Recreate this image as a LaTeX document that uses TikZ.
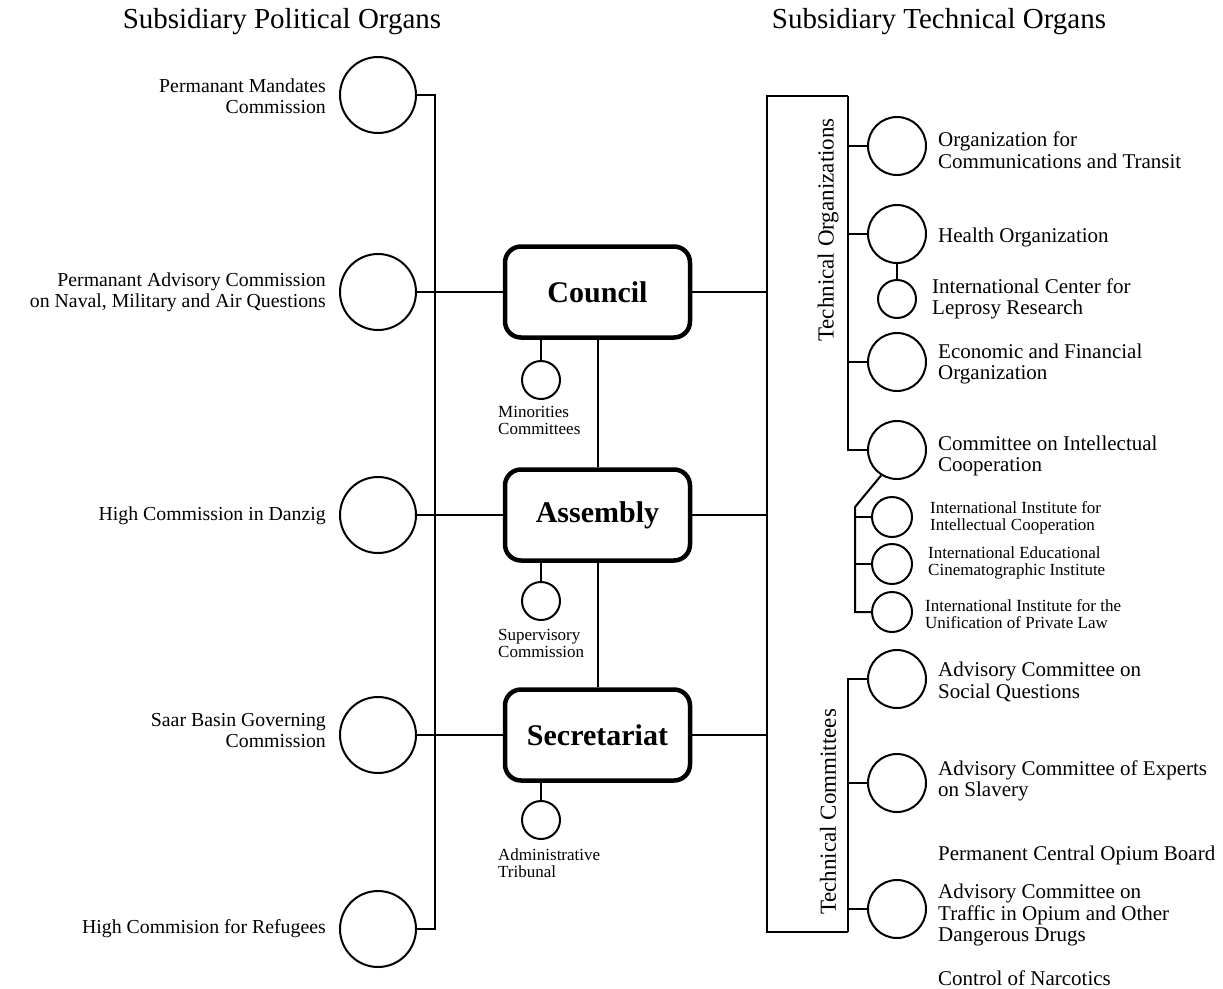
\documentclass[tikz,border=0pt]{standalone}
\usepackage{fontspec}
\setmainfont{Liberation Serif}
\begin{document}
\begin{tikzpicture}[x=1pt,y=-1pt,
  ln/.style={line width=2pt},
  bigc/.style={circle,draw,line width=2pt,minimum size=76pt,inner sep=0pt},
  rc/.style={circle,draw,line width=2pt,minimum size=58pt,inner sep=0pt},
  smc/.style={circle,draw,line width=2pt,minimum size=38pt,inner sep=0pt},
  subc/.style={circle,draw,line width=2pt,minimum size=40pt,inner sep=0pt},
  organ/.style={draw,line width=4.5pt,rounded corners=16pt,minimum width=185pt,minimum height=91pt,inner sep=0pt,font=\fontsize{30}{31}\selectfont\bfseries},
  hdr/.style={font=\fontsize{29}{30}\selectfont,inner sep=0pt},
  lt/.style={font=\fontsize{19.8}{21}\selectfont,inner sep=0pt,align=right,anchor=east},
  rt/.style={font=\fontsize{21}{21.5}\selectfont,inner sep=0pt,align=left,anchor=west},
  st/.style={font=\fontsize{17}{17}\selectfont,inner sep=0pt,align=left,anchor=west},
  vt/.style={font=\fontsize{23}{24}\selectfont,inner sep=0pt,rotate=90}]
\path[use as bounding box] (0,0) rectangle (1223,988);

% headers
\node[hdr] (h1) at (282,22) {Subsidiary Political Organs};
\node[hdr] (h2) at (939,22) {Subsidiary Technical Organs};

% left circles
\node[bigc] (L1) at (378,95) {};
\node[bigc] (L2) at (378,292) {};
\node[bigc] (L3) at (378,515) {};
\node[bigc] (L4) at (378,735) {};
\node[bigc] (L5) at (378,929) {};
\node[lt] (tL1) at (326,96) {Permanant Mandates\\Commission};
\node[lt] (tL2) at (326,292) {Permanant Advisory Commission\\on Naval, Military and Air Questions};
\node[lt] (tL3) at (326,516) {High Commission in Danzig};
\node[lt] (tL4) at (326,731) {Saar Basin Governing\\Commission};
\node[lt] (tL5) at (326,929) {High Commision for Refugees};

\coordinate (lsT) at (435,95);
\coordinate (lsB) at (435,929);
\draw[ln] (L1) -- (lsT) -- (lsB) -- (L5);

% central organs
\node[organ] (council) at (597.5,292) {Council};
\node[organ] (assembly) at (597.5,515) {Assembly};
\node[organ] (secretariat) at (597.5,735) {Secretariat};
\draw[ln] (L2) -- (council);
\draw[ln] (L3) -- (assembly);
\draw[ln] (L4) -- (secretariat);
\draw[ln] (council) -- (assembly);
\draw[ln] (assembly) -- (secretariat);

\node[smc] (m) at (541,380) {};
\node[smc] (s) at (541,601) {};
\node[smc] (a) at (541,820) {};
\draw[ln] (m) -- (m |- council.south);
\draw[ln] (s) -- (s |- assembly.south);
\draw[ln] (a) -- (a |- secretariat.south);
\node[st] (tm) at (498,420) {Minorities\\Committees};
\node[st] (ts) at (498,643) {Supervisory\\Commission};
\node[st] (ta) at (498,863) {Administrative\\Tribunal};

% right bracket
\coordinate (bTL) at (767,96);
\coordinate (bBL) at (767,932);
\coordinate (bTR) at (848,96);
\coordinate (bBR) at (848,932);
\draw[ln] (council) -- (council -| bTL);
\draw[ln] (assembly) -- (assembly -| bTL);
\draw[ln] (secretariat) -- (secretariat -| bTL);
\draw[ln] (bTR) -- (bTL) -- (bBL) -- (bBR);

\node[vt] (vto) at (828,230) {Technical Organizations};
\node[vt] (vtc) at (828,812) {Technical Committees};

% technical organizations
\node[rc] (o1) at (897,146) {};
\node[rc] (o2) at (897,234) {};
\node[smc] (o3) at (897,299) {};
\node[rc] (o4) at (897,362) {};
\node[rc] (o5) at (897,450) {};
\draw[ln] (bTR) -- (bTR |- o5) -- (o5);
\draw[ln] (o1) -- (o1 -| bTR);
\draw[ln] (o2) -- (o2 -| bTR);
\draw[ln] (o4) -- (o4 -| bTR);
\draw[ln] (o2) -- (o3);

\node[rt] (to1) at (938,150) {Organization for\\Communications and Transit};
\node[rt] (to2) at (938,237) {Health Organization};
\node[rt] (to3) at (932,299) {International Center for\\Leprosy Research};
\node[rt] (to4) at (938,364) {Economic and Financial\\Organization};
\node[rt] (to5) at (938,456) {Committee on Intellectual\\Cooperation};

% CIC institutes
\node[subc] (p1) at (892,517) {};
\node[subc] (p2) at (892,564) {};
\node[subc] (p3) at (892,612) {};
\coordinate (pk) at (855,507);
\draw[ln] (o5.238) -- (pk) -- (pk |- p3) -- (p3);
\draw[ln] (p1) -- (p1 -| pk);
\draw[ln] (p2) -- (p2 -| pk);
\node[st] (tp1) at (930,518) {International Institute for\\Intellectual Cooperation};
\node[st] (tp2) at (928,563) {International Educational\\Cinematographic Institute};
\node[st] (tp3) at (925,614) {International Institute for the\\Unification of Private Law};

% technical committees
\node[rc] (c1) at (897,679) {};
\node[rc] (c2) at (897,783) {};
\node[rc] (c3) at (897,909) {};
\draw[ln] (bBR) -- (bBR |- c1) -- (c1);
\draw[ln] (c2) -- (c2 -| bBR);
\draw[ln] (c3) -- (c3 -| bBR);
\node[rt] (tc1) at (938,682) {Advisory Committee on\\Social Questions};
\node[rt] (tc2) at (938,781) {Advisory Committee of Experts\\on Slavery};
\node[rt] (tc3) at (938,855) {Permanent Central Opium Board};
\node[rt] (tc4) at (938,915) {Advisory Committee on\\Traffic in Opium and Other\\Dangerous Drugs};
\node[rt] (tc5) at (938,978) {Control of Narcotics};
\end{tikzpicture}
\end{document}
